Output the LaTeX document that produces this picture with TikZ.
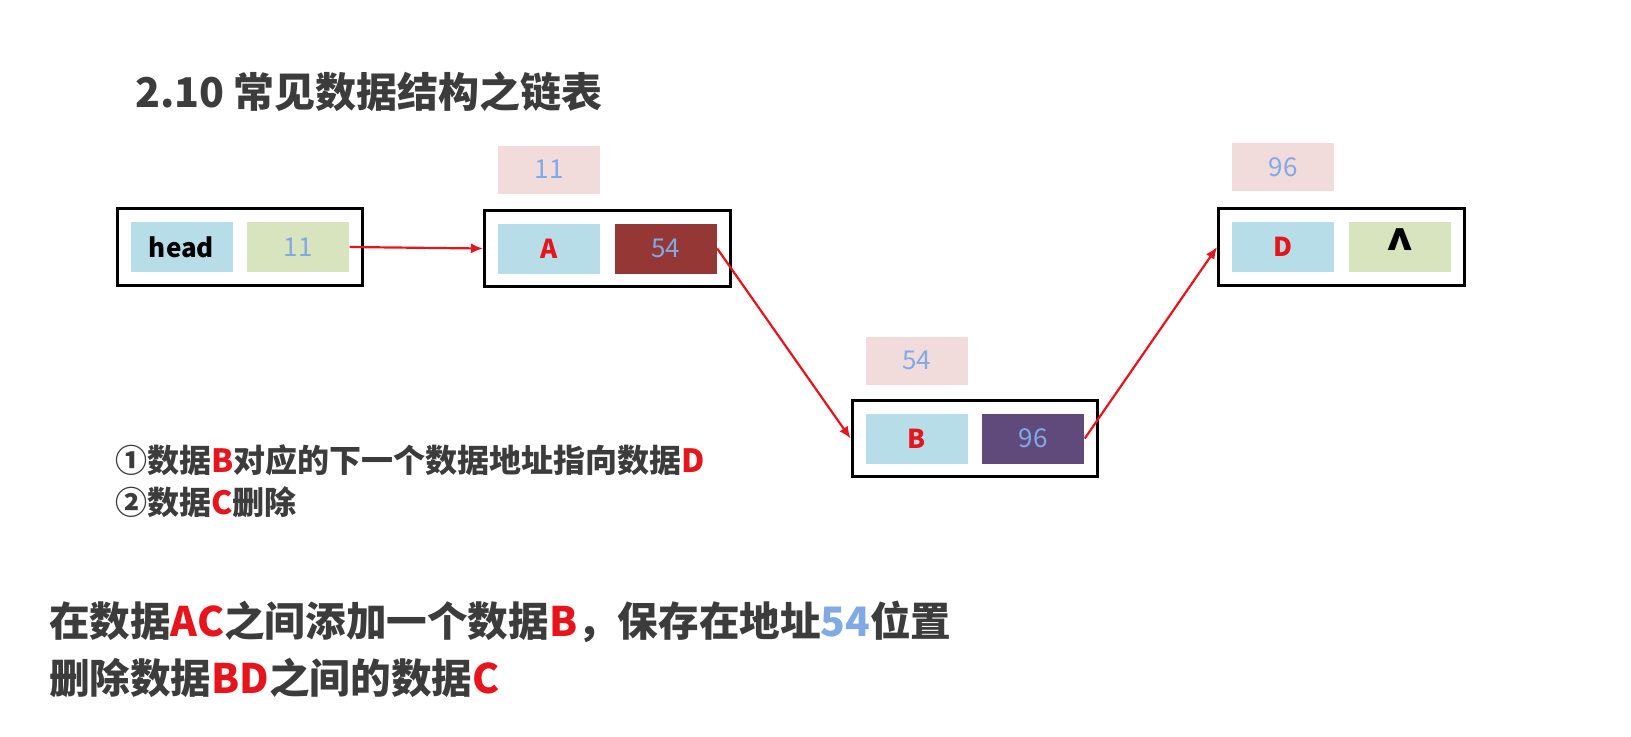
\documentclass[tikz,border=0pt]{standalone}
\usepackage{fontspec}
\setmainfont{Noto Sans CJK SC}
\usepackage{tikz}
\usepackage{xcolor}
\usetikzlibrary{positioning,fit,arrows.meta}

\definecolor{keyblue}{HTML}{B7DDE8}
\definecolor{ptrgreen}{HTML}{D7E4BD}
\definecolor{ptrred}{HTML}{953735}
\definecolor{ptrpurple}{HTML}{604A7B}
\definecolor{addrpink}{HTML}{F2DCDB}
\definecolor{addrblue}{HTML}{7FAAE6}
\definecolor{markred}{HTML}{E8141B}
\definecolor{textgray}{HTML}{3C3C3C}

\begin{document}
\begin{tikzpicture}[
    x=0.5pt, y=-0.5pt,
    cell/.style={rectangle, minimum width=51pt, minimum height=25pt, inner sep=0pt, font=\fontsize{13}{13}\selectfont},
    addr/.style={rectangle, fill=addrpink, minimum width=51pt, minimum height=24pt, inner sep=0pt, text=addrblue, font=\fontsize{13}{13}\selectfont},
    frame/.style={rectangle, draw, line width=1.5pt, inner sep=6.5pt},
    arrow/.style={-{Latex[length=6pt,width=5pt]}, draw=markred, line width=1.1pt},
    note/.style={anchor=west, text=textgray, font=\bfseries\fontsize{16}{16}\selectfont},
    task/.style={anchor=west, text=textgray, font=\bfseries\fontsize{20.3}{20.3}\selectfont}
]
\useasboundingbox[fill=white] (0,0) rectangle (1631,736);

% Title
\node[anchor=west, text=textgray, font=\bfseries\fontsize{20.5}{20.5}\selectfont] (title) at (128,92) {2.10 常见数据结构之链表};

% Head
\node[cell, fill=keyblue, font=\bfseries\fontsize{13}{13}\selectfont] (headkey) at (181.5,247) {head};
\node[cell, fill=ptrgreen, text=addrblue, right=7pt of headkey] (headptr) {11};
\node[frame, fit=(headkey)(headptr)] (headframe) {};

% Node A
\node[cell, fill=keyblue, text=markred, font=\bfseries\fontsize{13}{13}\selectfont] (akey) at (549,248.5) {A};
\node[cell, fill=ptrred, text=addrblue, right=7pt of akey] (aptr) {54};
\node[frame, fit=(akey)(aptr)] (aframe) {};
\node[addr, above=14.5pt of akey] (aaddr) {11};

% Node B
\node[cell, fill=keyblue, text=markred, font=\bfseries\fontsize{13}{13}\selectfont] (bkey) at (916.5,438.5) {B};
\node[cell, fill=ptrpurple, text=addrblue, right=7pt of bkey] (bptr) {96};
\node[frame, fit=(bkey)(bptr)] (bframe) {};
\node[addr, above=14pt of bkey] (baddr) {54};

% Node D
\node[cell, fill=keyblue, text=markred, font=\bfseries\fontsize{13}{13}\selectfont] (dkey) at (1283,247) {D};
\node[cell, fill=ptrgreen, font=\bfseries\fontsize{24}{24}\selectfont, right=7pt of dkey] (dptr) {\raisebox{-4pt}{\^{}}};
\node[frame, fit=(dkey)(dptr)] (dframe) {};
\node[addr, above=15pt of dkey] (daddr) {96};

% Connections
\draw[arrow] (headptr.east) -- (aframe.west);
\draw[arrow] (aptr.east) -- (bframe.west);
\draw[arrow] (bptr.east) -- (dframe.west);

% Steps
\node[note] (step1) at (108,460) {①数据\textcolor{markred}{B}对应的下一个数据地址指向数据\textcolor{markred}{D}};
\node[note] (step2) at (108,502) {②数据\textcolor{markred}{C}删除};

% Tasks
\node[task] (task1) at (42,622) {在数据\textcolor{markred}{AC}之间添加一个数据\textcolor{markred}{B}，保存在地址\textcolor{addrblue}{54}位置};
\node[task] (task2) at (42,678) {删除数据\textcolor{markred}{BD}之间的数据\textcolor{markred}{C}};

\end{tikzpicture}
\end{document}
